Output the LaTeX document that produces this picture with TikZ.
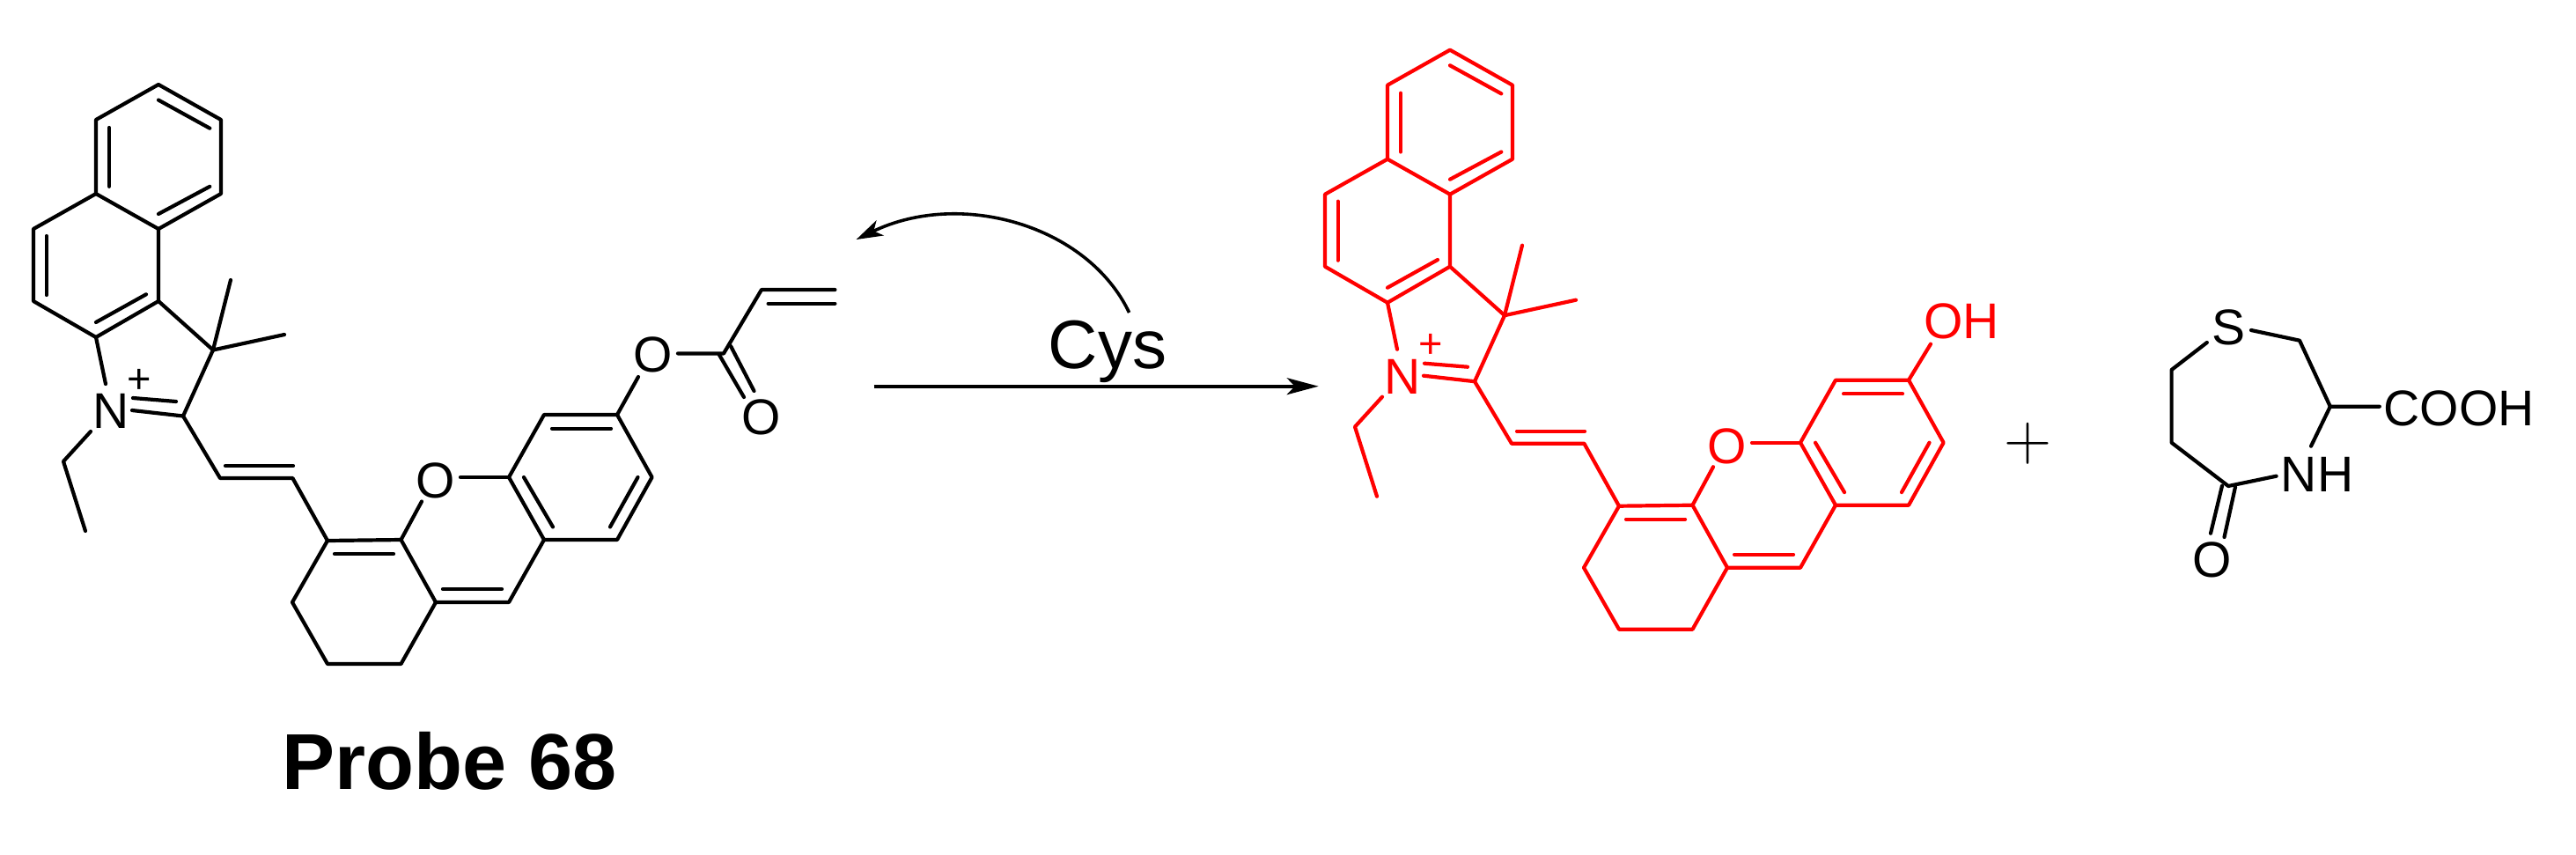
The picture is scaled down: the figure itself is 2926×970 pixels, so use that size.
\documentclass[tikz,border=0pt]{standalone}
\usepackage{fontspec}
\setmainfont{Liberation Sans}
\usepackage{tikz}
\usetikzlibrary{arrows.meta, positioning}

% ring system shared by the probe and the released dye
\newcommand{\dyecore}{
	\coordinate (a1) at (180,96);
	\coordinate (a2) at (251,136);
	\coordinate (a3) at (251,220);
	\coordinate (a4) at (180,260);
	\coordinate (a5) at (109,220);
	\coordinate (a6) at (109,136);
	\draw (a1) -- (a2) -- (a3) -- (a4) -- (a5) -- (a6) -- cycle;
	
	\coordinate (a1i) at (180,113.6);
	\coordinate (a2i) at (238.3,145.7);
	\coordinate (a3i) at (238.3,211.8);
	\coordinate (a4i) at (180,243);
	\coordinate (a5i) at (124,211.8);
	\coordinate (a6i) at (124,145);
	\draw (a1i) -- (a2i);
	\draw (a3i) -- (a4i);
	\draw (a5i) -- (a6i);
	
	\coordinate (b3) at (180,342);
	\coordinate (b4) at (109,383);
	\coordinate (b5) at (38,342);
	\coordinate (b6) at (38,260);
	\draw (a4) -- (b3) -- (b4) -- (b5) -- (b6) -- (a5);
	
	\coordinate (b3i) at (166,334.3);
	\coordinate (b4i) at (109,366);
	\coordinate (b5i) at (52.7,335);
	\coordinate (b6i) at (52.7,268);
	\draw (b3i) -- (b4i);
	\draw (b5i) -- (b6i);
	
	% indolium part
	\node (nplus) at (126,467) [atomlab] {N};
	\node (chg) at (158,432.5) [chglab] {+};
	\coordinate (n1) at (120,436);
	\coordinate (n2) at (150,466);
	\coordinate (n3) at (151,452);
	\coordinate (n4) at (103,490);
	\coordinate (c3) at (242,397.5);
	\coordinate (c2) at (208,472.5);
	\coordinate (c2i) at (200,456);
	\coordinate (me1) at (262,318);
	\coordinate (me2) at (323,380);
	\coordinate (et1) at (72,524);
	\coordinate (et2) at (97,603);
	\draw (b4) -- (n1);
	\draw (b3) -- (c3) -- (c2) -- (n2);
	\draw (n3) -- (c2i);
	\draw (c3) -- (me1);
	\draw (c3) -- (me2);
	\draw (n4) -- (et1) -- (et2);
	
	% vinyl link
	\coordinate (v1) at (250,543);
	\coordinate (v2) at (332.4,543);
	\coordinate (v1i) at (256,529);
	\coordinate (v2i) at (333,529);
	\coordinate (x1) at (372,614);
	\draw (c2) -- (v1) -- (v2) -- (x1);
	\draw (v1i) -- (v2i);
	
	% xanthene part
	\node (oxa) at (494.5,546) [atomlab] {O};
	\coordinate (x2) at (455.5,613);
	\coordinate (x3) at (495,684);
	\coordinate (x4) at (578,684);
	\coordinate (x5) at (618,613);
	\coordinate (x6) at (578,542);
	\coordinate (x7) at (618,471);
	\coordinate (x8) at (701,471);
	\coordinate (x9) at (740.6,542);
	\coordinate (x10) at (701,613);
	\coordinate (y1) at (332,684);
	\coordinate (y2) at (372,754);
	\coordinate (y3) at (455.5,754);
	\coordinate (o1) at (479,569.5);
	\coordinate (o2) at (523,542);
	\draw (x1) -- (x2) -- (x3) -- (x4) -- (x5) -- (x6) -- (x7) -- (x8) -- (x9) -- (x10) -- (x5);
	\draw (x1) -- (y1) -- (y2) -- (y3) -- (x3);
	\draw (x2) -- (o1);
	\draw (x6) -- (o2);
	
	\coordinate (x1i) at (380,629);
	\coordinate (x2i) at (447,629);
	\coordinate (x3i) at (503,669);
	\coordinate (x4i) at (570,669);
	\coordinate (x5i) at (628,598.4);
	\coordinate (x6i) at (595,542);
	\coordinate (x7i) at (627,486.6);
	\coordinate (x8i) at (694,486.6);
	\coordinate (x9i) at (724.5,542);
	\coordinate (x10i) at (693,598.4);
	\draw (x1i) -- (x2i);
	\draw (x3i) -- (x4i);
	\draw (x5i) -- (x6i);
	\draw (x7i) -- (x8i);
	\draw (x9i) -- (x10i);
}

\begin{document}
\begin{tikzpicture}[x=1pt, y=-1pt, line width=4.2pt, line cap=round, line join=round]
	\tikzstyle{atomlab}=[font=\fontsize{57}{57}\selectfont, inner sep=0pt]
	\tikzstyle{chglab}=[font=\fontsize{47}{47}\selectfont, inner sep=0pt]
	\tikzstyle{titlelab}=[font=\fontsize{90}{90}\selectfont\bfseries, inner sep=0pt, anchor=base]
	\tikzstyle{reagentlab}=[font=\fontsize{78}{78}\selectfont, inner sep=0pt, anchor=base]
	\tikzstyle{pluslab}=[font=\fontfamily{lmr}\fontsize{75}{75}\selectfont, inner sep=0pt]
	\tikzstyle{rxnarrow}=[line width=3.6pt, line cap=butt, -{Stealth[length=36pt, width=19pt, inset=9pt]}]
	\tikzstyle{curvarrow}=[line width=3.6pt, line cap=butt, -{Stealth[length=30pt, width=19pt, inset=8pt]}]
	
	\useasboundingbox (0,0) rectangle (2926,970);
	
	\dyecore
	
	% acrylate ester
	\node (oest) at (741.7,403) [atomlab] {O};
	\node (ocar) at (865,474) [atomlab] {O};
	\coordinate (e1) at (725,428);
	\coordinate (e2) at (770,401.4);
	\coordinate (e3) at (822,401.4);
	\coordinate (e4) at (865,329);
	\coordinate (e5) at (948.4,329);
	\coordinate (e4i) at (872.6,344.7);
	\coordinate (e5i) at (948.4,344.7);
	\coordinate (d1) at (817,403);
	\coordinate (d2) at (845,451);
	\coordinate (d3) at (830,393);
	\coordinate (d4) at (856.5,444);
	\draw (x8) -- (e1);
	\draw (e2) -- (e3) -- (e4) -- (e5);
	\draw (e4i) -- (e5i);
	\draw (d1) -- (d2);
	\draw (d3) -- (d4);
	
	\node (probe) at (511,896) [titlelab] {Probe 68};
	
	% reaction arrows
	\node (cys) at (1258,418.5) [reagentlab] {Cys};
	\coordinate (ra) at (992.5,438.7);
	\coordinate (rb) at (1497.7,438.7);
	\coordinate (ca) at (1282.6,355);
	\coordinate (cb) at (972.6,272);
	\draw [rxnarrow] (ra) -- (rb);
	\draw [curvarrow] (ca) .. controls (1235,255) and (1090,215) .. (cb);
	
	\begin{scope}[shift={(1467,-39.3)}, red, name prefix=r]
		\dyecore
		\node (oh) at (761,404) [atomlab] {OH};
		\coordinate (h1) at (726,430);
		\draw (x8) -- (h1);
	\end{scope}
	
	\node (plus) at (2303.9,503.7) [pluslab] {+};
	
	% thiazepane by-product
	\node (sul) at (2531.8,371.7) [atomlab] {S};
	\node (nh) at (2632,538.5) [atomlab] {NH};
	\node (cooh) at (2793,464) [atomlab] {COOH};
	\node (oket) at (2513,636) [atomlab] {O};
	\coordinate (s1) at (2506.8,389);
	\coordinate (s2) at (2466.6,420);
	\coordinate (s3) at (2466.6,502.7);
	\coordinate (s4) at (2531,552);
	\coordinate (s5) at (2585.6,540.7);
	\coordinate (s6) at (2557,375);
	\coordinate (s7) at (2612,386.7);
	\coordinate (s8) at (2646.8,461.7);
	\coordinate (s9) at (2702.8,461.7);
	\coordinate (s10) at (2625,506.7);
	\coordinate (k1) at (2524,551.7);
	\coordinate (k2) at (2511,605.7);
	\coordinate (k3) at (2539,553);
	\coordinate (k4) at (2526.5,610);
	\draw (s1) -- (s2) -- (s3) -- (s4) -- (s5);
	\draw (s6) -- (s7) -- (s8) -- (s9);
	\draw (s8) -- (s10);
	\draw (k1) -- (k2);
	\draw (k3) -- (k4);
\end{tikzpicture}
\end{document}
